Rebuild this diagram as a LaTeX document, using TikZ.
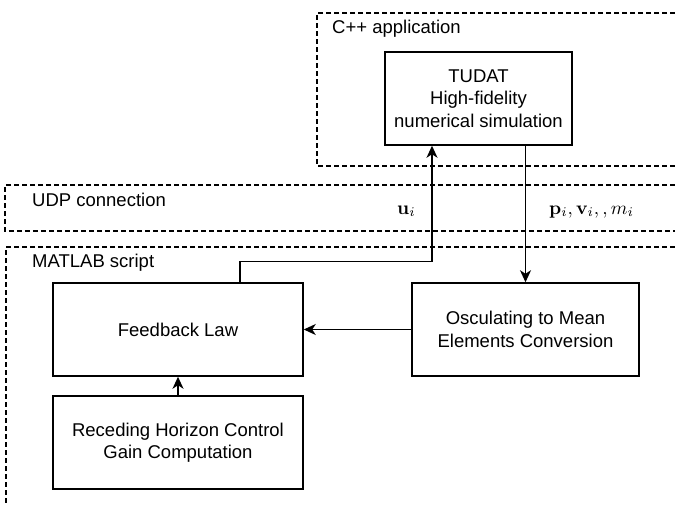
\documentclass[tikz,border=0pt]{standalone}
\usepackage{graphicx}
\usepackage[no-math]{fontspec}
\setmainfont{Liberation Sans}
\usetikzlibrary{arrows.meta}
\begin{document}
\begin{tikzpicture}[x=1pt,y=-1pt,
  txt/.style={font=\fontsize{18.5}{22.5}\selectfont},
  blk/.style={txt, draw, line width=1.5pt, align=center, inner sep=0pt, minimum height=93pt},
  region/.style={draw, line width=1.4pt, dash pattern=on 5pt off 3pt},
  lbl/.style={txt, anchor=base west, inner sep=0pt},
  mlbl/.style={anchor=base west, inner sep=0pt},
  conn/.style={line width=1.5pt, -{Stealth[length=12pt,width=11pt,inset=3.5pt]}}]
\useasboundingbox (0,0) rectangle (675,506);

% dashed regions
\draw[region] (675,13) -- (317,13) -- (317,166) -- (675,166);
\draw[region] (675,185) -- (5,185) -- (5,231) -- (675,231);
\draw[region] (675,247) -- (6,247) -- (6,506);

% region labels
\node[lbl] (lcpp) at (332,33) {C++ application};
\node[lbl] (ludp) at (32,206) {UDP connection};
\node[lbl] (lmat) at (32,267) {MATLAB script};

% blocks
\node[blk, minimum width=187pt] (tudat) at (478.5,98.5) {TUDAT\\High-fidelity\\numerical simulation};
\node[blk, minimum width=250pt] (fb) at (178,329.5) {Feedback Law};
\node[blk, minimum width=250pt] (rh) at (178,442.5) {Receding Horizon Control\\Gain Computation};
\node[blk, minimum width=227pt] (osc) at (525.5,329.5) {Osculating to Mean\\Elements Conversion};

% signal labels
\node[mlbl] (lu) at (397,214) {\scalebox{1.9}{$\mathbf{u}_i$}};
\node[mlbl] (lp) at (549,214) {\scalebox{1.9}{$\mathbf{p}_i, \mathbf{v}_i, , m_i$}};

% connectors
\draw[conn] (tudat.south -| osc.north) -- (osc.north);
\draw[conn] (osc.west) -- (fb.east);
\draw[conn] (rh.north) -- (fb.south);
\draw[conn] ([xshift=62pt]fb.north) -- ++(0,-21) -| ([xshift=-46.5pt]tudat.south);
\end{tikzpicture}
\end{document}
